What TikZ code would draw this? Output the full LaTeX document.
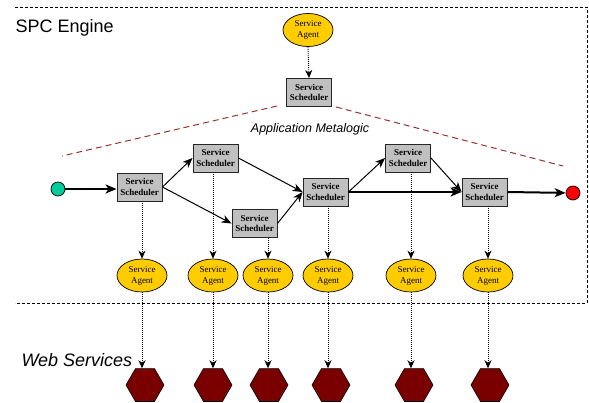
\documentclass[tikz,border=0pt]{standalone}
\usepackage{fontspec}
\setmainfont{Liberation Serif}
\setsansfont{Liberation Sans}
\usetikzlibrary{arrows.meta,shapes.geometric}
\definecolor{agentfill}{HTML}{FFCC00}
\definecolor{schedfill}{HTML}{C0C0C0}
\definecolor{wsfill}{HTML}{7A0000}
\definecolor{startfill}{HTML}{00CC99}
\definecolor{endfill}{HTML}{FF0000}
\definecolor{metaline}{HTML}{993333}
\tikzset{
  sched/.style={draw=black!85, fill=schedfill, line width=0.9pt,
    minimum width=45pt, minimum height=28pt, inner sep=0pt, align=center,
    font=\fontsize{9}{10.8}\selectfont\bfseries},
  agent/.style={ellipse, draw, fill=agentfill, line width=0.7pt,
    minimum width=50pt, minimum height=33pt, inner sep=0pt, align=center,
    font=\fontsize{9}{11}\selectfont},
  wservice/.style={regular polygon, regular polygon sides=6, draw, fill=wsfill,
    minimum size=38pt, inner sep=0pt, line width=0.6pt},
  terminal/.style={circle, draw, line width=0.7pt, minimum size=14pt, inner sep=0pt},
  flow/.style={-{Stealth[length=10pt,width=8pt,inset=3pt]}, line width=1pt},
  mainflow/.style={flow, line width=2pt, -{Stealth[length=11pt,width=9pt,inset=3pt]}},
  dep/.style={-{Stealth[length=8pt,width=7pt,inset=2.5pt]}, line width=0.9pt,
    dash pattern=on 1pt off 1pt},
  meta/.style={draw=metaline, line width=1pt, dash pattern=on 6pt off 4pt},
  frame/.style={line width=0.8pt, dash pattern=on 3pt off 2pt}
}
\begin{document}
\begin{tikzpicture}[x=1pt,y=-1pt]
\useasboundingbox (0,0) rectangle (589,402);

% engine boundary
\draw[frame] (15,7) -- (587,7) -- (587,303) -- (15,303);

% labels
\node[anchor=west, font=\sffamily\fontsize{18}{20}\selectfont] (engine) at (12,28) {SPC Engine};
\node[anchor=west, font=\sffamily\itshape\fontsize{18}{20}\selectfont] (web) at (18,360) {Web Services};
\node[font=\sffamily\itshape\fontsize{12.5}{14}\selectfont] (metalogic) at (310,129) {Application Metalogic};

% meta level
\node[agent] (a0) at (308,30) {Service\\Agent};
\node[sched] (s0) at (309,92.5) {Service\\Scheduler};
\draw[dep] (a0.south) -- (s0.north);

\coordinate (mL1) at (277,106);
\coordinate (mL2) at (62,156);
\coordinate (mR1) at (336,107);
\coordinate (mR2) at (563,166);
\draw[meta] (mL1) -- (mL2);
\draw[meta] (mR1) -- (mR2);

% workflow
\node[terminal, fill=startfill] (start) at (58,189) {};
\node[terminal, fill=endfill] (stop) at (573,193) {};
\node[sched] (s1) at (139.5,187) {Service\\Scheduler};
\node[sched] (s2) at (215.5,158) {Service\\Scheduler};
\node[sched] (s3) at (254.5,223.5) {Service\\Scheduler};
\node[sched] (s4) at (325.5,192) {Service\\Scheduler};
\node[sched] (s5) at (408,158) {Service\\Scheduler};
\node[sched] (s6) at (484.5,192) {Service\\Scheduler};

\draw[mainflow] (start) -- (start -| s1.west);
\draw[flow] (s1.east) -- (s2.west);
\draw[flow] (s1.east) -- (s3.west);
\draw[flow] (s2.east) -- (s4.west);
\draw[flow] (s3.east) -- (s4.west);
\draw[flow] (s4.east) -- (s5.west);
\draw[flow] (s5.east) -- (s6.west);
\draw[mainflow] (s4.east) -- (s6.west);
\draw[mainflow] (s6.east) -- (stop);

% agents and web services
\foreach \i/\ax/\wx in {1/142/145, 2/213/213, 3/268/269, 4/328/331, 5/411/414, 6/488/490} {
  \node[agent] (a\i) at (\ax,275.5) {Service\\Agent};
  \node[wservice] (w\i) at (\wx,385) {};
  \draw[dep] (s\i.south -| a\i) -- (a\i.north);
  \draw[dep] (a\i.south) -- (a\i.south |- w\i.north);
}
\end{tikzpicture}
\end{document}
